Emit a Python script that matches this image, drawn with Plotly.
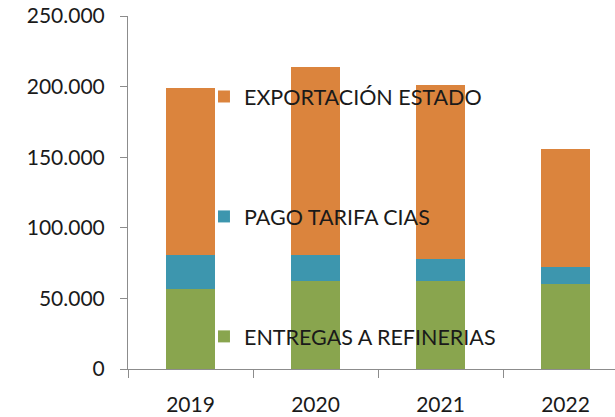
import plotly.graph_objects as go

years = ["2019", "2020", "2021", "2022"]
entregas = [57000, 62000, 62000, 60000]
pago = [23700, 18700, 15600, 12300]
exportacion = [118500, 133000, 123600, 83500]

names = ["ENTREGAS A REFINERIAS", "PAGO TARIFA CIAS", "EXPORTACIÓN ESTADO"]
colors = ["#89A54E", "#3D96AE", "#DB843D"]
series = [entregas, pago, exportacion]
ranks = [3, 2, 1]

fig = go.Figure()
for i, (nm, col, vals) in enumerate(zip(names, colors, series)):
    fig.add_trace(go.Bar(
        x=years, y=vals, name=nm, legendgroup=f"g{i}", legendrank=ranks[i],
        marker=dict(color=col, line=dict(width=0)),
    ))

font_family = "Lato, 'Liberation Sans', sans-serif"
fig.update_layout(
    width=615, height=417,
    barmode="stack", bargap=0.61,
    separators=",.",
    paper_bgcolor="white", plot_bgcolor="white",
    margin=dict(l=128, r=0, t=16, b=48, autoexpand=False),
    font=dict(family=font_family, size=21, color="#1a1a1a"),
    showlegend=True,
    legend=dict(
        x=0.156, y=0.83, xanchor="left", yanchor="top",
        traceorder="grouped", tracegroupgap=89,
        font=dict(size=21.5, color="#1a1a1a"),
        bgcolor="rgba(0,0,0,0)",
    ),
    xaxis=dict(
        type="category", range=[-0.5, 3.396], automargin=False,
        showline=True, linecolor="#8c8c8c", linewidth=1,
        ticks="outside", tickson="boundaries", ticklen=8, tickcolor="#8c8c8c",
        showgrid=False, tickfont=dict(size=21), ticklabelstandoff=17,
    ),
    yaxis=dict(
        range=[0, 250000], tickvals=[0, 50000, 100000, 150000, 200000, 250000],
        tickformat=",d", automargin=False,
        showline=True, linecolor="#8c8c8c", linewidth=1,
        ticks="outside", ticklen=7, tickcolor="#8c8c8c",
        showgrid=False, zeroline=False, tickfont=dict(size=21),
        ticklabelstandoff=11,
    ),
)

fig.write_html("out.html", config={"displayModeBar": False},
               post_script="document.body.style.margin='0';")
